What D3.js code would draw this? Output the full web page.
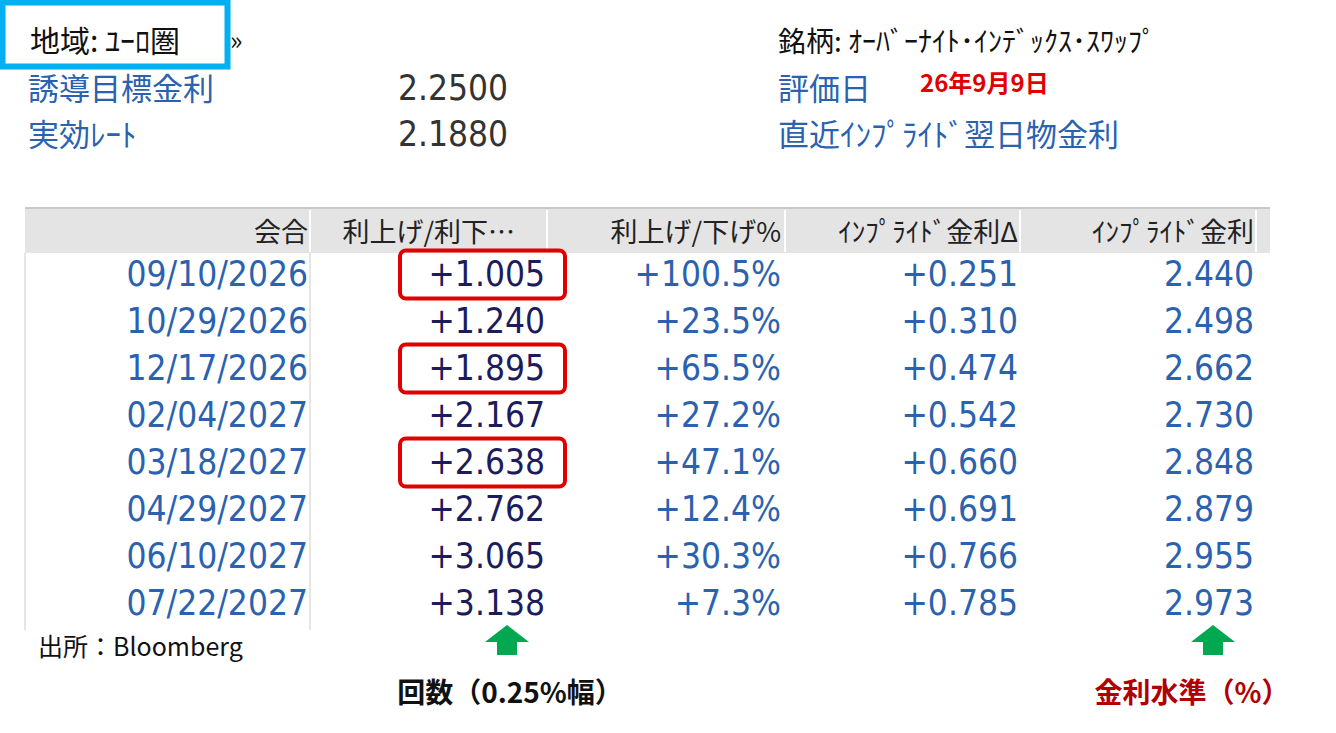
<!DOCTYPE html><html><head><meta charset="utf-8"><script src="https://cdn.jsdelivr.net/npm/d3@7"></script>
<style>body{margin:0;background:#fff}</style></head><body><svg id="c" width="1336" height="733"></svg>
<script>
const dates=["09/10/2026","10/29/2026","12/17/2026","02/04/2027","03/18/2027","04/29/2027","06/10/2027","07/22/2027"];
const hikes=["+1.005","+1.240","+1.895","+2.167","+2.638","+2.762","+3.065","+3.138"];
const hikePct=["+100.5%","+23.5%","+65.5%","+27.2%","+47.1%","+12.4%","+30.3%","+7.3%"];
const impliedDelta=["+0.251","+0.310","+0.474","+0.542","+0.660","+0.691","+0.766","+0.785"];
const impliedRate=["2.440","2.498","2.662","2.730","2.848","2.879","2.955","2.973"];
const headers=["会合","利上げ/利下…","利上げ/下げ%","ｲﾝﾌﾟﾗｲﾄﾞ金利Δ","ｲﾝﾌﾟﾗｲﾄﾞ金利"];
const boxed=[0,2,4];
const svg=d3.select("#c");
const F="'Liberation Sans Narrow','DejaVu Sans Condensed','Noto Sans CJK JP',sans-serif";
const J="'Noto Sans CJK JP',sans-serif";
const y=d3.scaleBand().domain(d3.range(dates.length)).range([250,626]);
const colRight=[308,545,781,1018,1254];
svg.append("rect").attr("x",25).attr("y",208).attr("width",1245).attr("height",45).attr("fill","#e4e4e4");
svg.append("line").attr("x1",25).attr("x2",1270).attr("y1",208).attr("y2",208).attr("stroke","#c8c8c8").attr("stroke-width",2);
[310,547,785,1020,1256].forEach(x=>svg.append("line").attr("x1",x).attr("x2",x).attr("y1",210).attr("y2",252).attr("stroke","#fff").attr("stroke-width",2));
headers.forEach((h,i)=>svg.append("text").attr("x",colRight[i]-(i==1?30:0)).attr("y",242).attr("text-anchor","end").attr("font-family",J).attr("font-size",27).attr("fill","#222").text(h));
svg.append("line").attr("x1",25).attr("x2",25).attr("y1",253).attr("y2",630).attr("stroke","#ccc");
svg.append("line").attr("x1",310).attr("x2",310).attr("y1",253).attr("y2",630).attr("stroke","#ccc");
const cols=[dates,hikes,hikePct,impliedDelta,impliedRate];
const colors=["#2a62b0","#1c1c5c","#2a62b0","#2a62b0","#2a62b0"];
cols.forEach((arr,c)=>{
  svg.selectAll(null).data(arr).enter().append("text").attr("x",colRight[c]).attr("y",(d,i)=>y(i)+y.bandwidth()/2+12)
   .attr("text-anchor","end").attr("font-family",F).attr("font-size",35).attr("fill",colors[c]).text(d=>d);
});
svg.selectAll(null).data(boxed).enter().append("rect").attr("x",400).attr("y",i=>y(i)+y.bandwidth()/2-23).attr("width",165).attr("height",48).attr("rx",6)
 .attr("fill","none").attr("stroke","#e00000").attr("stroke-width",4);
svg.append("rect").attr("x",2.5).attr("y",2.5).attr("width",225).attr("height",64).attr("fill","none").attr("stroke","#00b0f0").attr("stroke-width",6);
svg.append("text").attr("x",30).attr("y",52).attr("font-family",J).attr("font-size",30).attr("fill","#111").text("地域: ﾕｰﾛ圏");
svg.append("text").attr("x",230).attr("y",50).attr("font-family",J).attr("font-size",26).attr("fill","#111").text("»");
const labL=["誘導目標金利","実効ﾚｰﾄ"], valL=["2.2500","2.1880"];
labL.forEach((t,i)=>{
 svg.append("text").attr("x",28).attr("y",100+i*46).attr("font-family",J).attr("font-size",31).attr("fill","#2a62b0").text(t);
 svg.append("text").attr("x",398).attr("y",100+i*46).attr("font-family",F).attr("font-size",35).attr("fill","#333").text(valL[i]);
});
svg.append("text").attr("x",778).attr("y",52).attr("font-family",J).attr("font-size",28).attr("fill","#111").text("銘柄: ｵｰﾊﾞｰﾅｲﾄ･ｲﾝﾃﾞｯｸｽ･ｽﾜｯﾌﾟ");
svg.append("text").attr("x",778).attr("y",100).attr("font-family",J).attr("font-size",31).attr("fill","#2a62b0").text("評価日");
svg.append("text").attr("x",920).attr("y",92).attr("font-family",J).attr("font-size",24).attr("font-weight","bold").attr("fill","#e00000").text("26年9月9日");
svg.append("text").attr("x",778).attr("y",146).attr("font-family",J).attr("font-size",31).attr("fill","#2a62b0").text("直近ｲﾝﾌﾟﾗｲﾄﾞ翌日物金利");
svg.append("text").attr("x",38).attr("y",656).attr("font-family",J).attr("font-size",25).attr("fill","#111").text("出所：Bloomberg");
[507,1213].forEach(cx=>svg.append("path").attr("d",`M${cx},625 L${cx+22},642 L${cx+10},642 L${cx+10},655 L${cx-10},655 L${cx-10},642 L${cx-22},642 Z`).attr("fill","#00a84f"));
svg.append("text").attr("x",510).attr("y",703).attr("text-anchor","middle").attr("font-family",J).attr("font-size",28).attr("font-weight","bold").attr("fill","#111").text("回数（0.25%幅）");
svg.append("text").attr("x",1192).attr("y",703).attr("text-anchor","middle").attr("font-family",J).attr("font-size",28).attr("font-weight","bold").attr("fill","#b00000").text("金利水準（%）");
</script></body></html>
